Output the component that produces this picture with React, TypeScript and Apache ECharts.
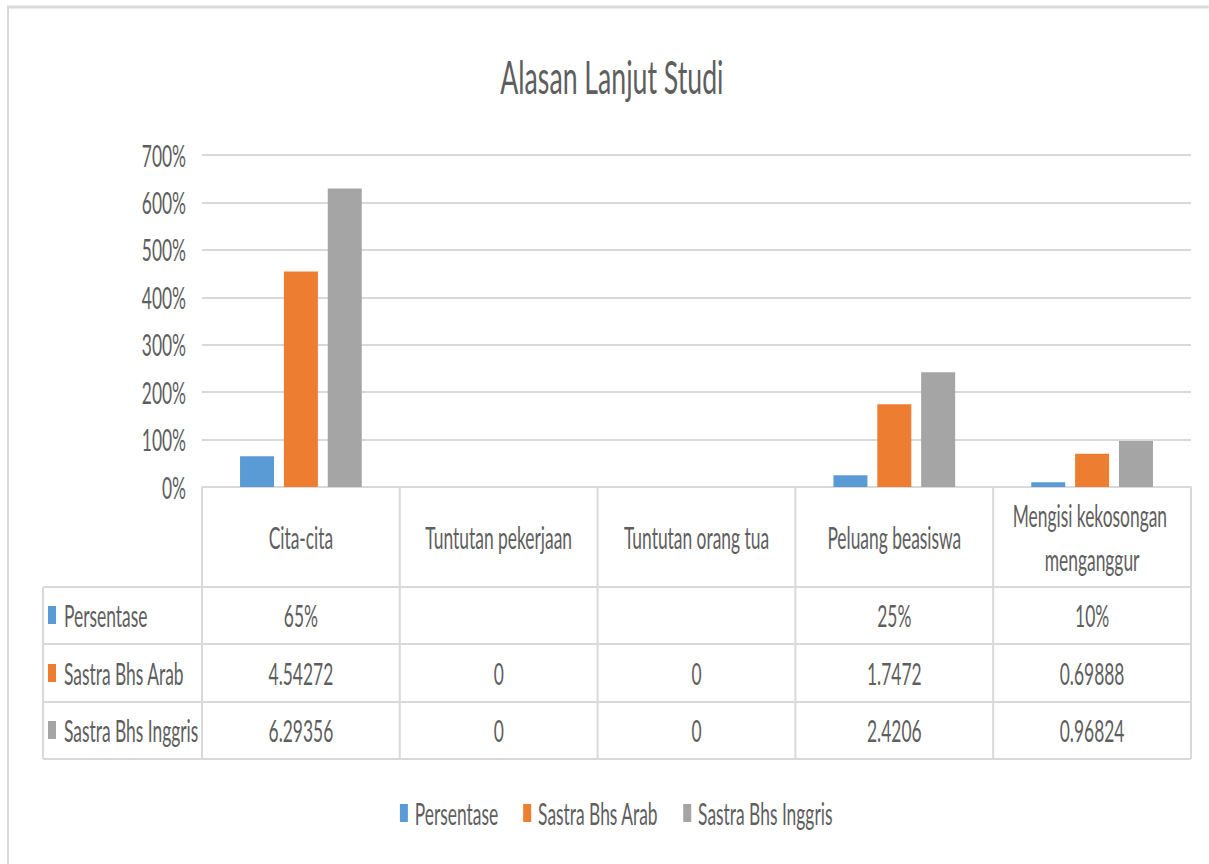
import React, { useEffect, useRef } from "react";
import * as echarts from "echarts";

// ---- data ----
const title = "Alasan Lanjut Studi";
const categories = [
  "Cita-cita",
  "Tuntutan pekerjaan",
  "Tuntutan orang tua",
  "Peluang beasiswa",
  "Mengisi kekosongan menganggur",
];
const seriesNames = ["Persentase", "Sastra Bhs Arab", "Sastra Bhs Inggris"];
const persentase: (number | null)[] = [0.65, null, null, 0.25, 0.1];
const sastraArab: number[] = [4.54272, 0, 0, 1.7472, 0.69888];
const sastraInggris: number[] = [6.29356, 0, 0, 2.4206, 0.96824];
const yTicks = [0, 1, 2, 3, 4, 5, 6, 7];
const colors = ["#5b9bd5", "#ed7d31", "#a5a5a5"];

const seriesValues = [persentase, sastraArab, sastraInggris];
const cellFormat = [
  (v: number | null) => (v == null ? "" : Math.round(v * 100) + "%"),
  (v: number | null) => (v == null ? "" : String(v)),
  (v: number | null) => (v == null ? "" : String(v)),
];

// ---- layout (visual px) ----
const S = 0.58; // horizontal squeeze of the original picture
const VW = 1209;
const VH = 864;
const IW = VW / S;
const X = (v: number) => v / S;
const plotLeft = 202;
const plotRight = 1191;
const plotTop = 155;
const plotBottom = 487;
const tableLeft = 43;
const rowLines = [487, 587, 644, 702, 759];
const rowCenters = [537, 615, 673, 730];
const FONT = '"Lato", "Liberation Sans", sans-serif';
const FW = 400;
const FS = 30;
const TXT = "#5e5e5e";
const LINE = "#d9d9d9";

export default function App() {
  const ref = useRef<HTMLDivElement>(null);
  useEffect(() => {
    if (!ref.current) return;
    const chart = echarts.init(ref.current, undefined, { renderer: "svg" });
    const bandW = (plotRight - plotLeft) / categories.length;

    const graphics: any[] = [];
    // outer chart border
    graphics.push({ type: "line", shape: { x1: X(7), y1: 7, x2: IW, y2: 7 }, style: { stroke: LINE, lineWidth: 3 } });
    graphics.push({ type: "line", shape: { x1: X(8), y1: 7, x2: X(8), y2: VH }, style: { stroke: LINE, lineWidth: 2 / S } });
    // table horizontal lines
    rowLines.slice(1).forEach((y) => {
      graphics.push({ type: "line", shape: { x1: X(tableLeft), y1: y, x2: X(plotRight), y2: y }, style: { stroke: LINE, lineWidth: 2 } });
    });
    // table vertical lines
    for (let i = 0; i <= categories.length; i++) {
      const x = X(plotLeft + i * bandW);
      graphics.push({ type: "line", shape: { x1: x, y1: rowLines[0], x2: x, y2: rowLines[4] }, style: { stroke: LINE, lineWidth: 2 / S } });
    }
    graphics.push({ type: "line", shape: { x1: X(tableLeft), y1: rowLines[1], x2: X(tableLeft), y2: rowLines[4] }, style: { stroke: LINE, lineWidth: 2 / S } });
    // left column keys and names
    seriesNames.forEach((name, i) => {
      const cy = rowCenters[i + 1];
      graphics.push({ type: "rect", shape: { x: X(48), y: cy - 9, width: X(8), height: 18 }, style: { fill: colors[i] } });
      graphics.push({
        type: "text",
        x: X(64),
        y: cy,
        style: { text: name, fill: TXT, fontSize: FS, fontFamily: FONT, fontWeight: FW, verticalAlign: "middle", align: "left" },
      });
    });

    const xAxes: any[] = [
      {
        type: "category",
        data: categories,
        gridIndex: 0,
        position: "bottom",
        axisLine: { show: true, lineStyle: { color: LINE, width: 2 } },
        axisTick: { show: false },
        axisLabel: {
          interval: 0,
          margin: rowCenters[0] - plotBottom,
          verticalAlign: "middle",
          lineHeight: 44,
          width: X(185),
          overflow: "break",
          fontSize: FS,
          fontFamily: FONT,
          fontWeight: FW,
          color: TXT,
        },
      },
    ];
    seriesValues.forEach((vals, i) => {
      xAxes.push({
        type: "category",
        data: categories,
        gridIndex: 0,
        position: "bottom",
        offset: 0,
        axisLine: { show: false },
        axisTick: { show: false },
        splitLine: { show: false },
        axisLabel: {
          interval: 0,
          margin: rowCenters[i + 1] - plotBottom,
          verticalAlign: "middle",
          fontSize: FS,
          fontFamily: FONT,
          fontWeight: FW,
          color: TXT,
          formatter: (_v: string, idx: number) => cellFormat[i](vals[idx]),
        },
      });
    });

    chart.setOption({
      animation: false,
      title: {
        text: title,
        left: X(609),
        top: 48,
        textAlign: "center",
        textStyle: { fontSize: 46, fontFamily: FONT, fontWeight: FW, color: TXT },
      },
      grid: {
        left: X(plotLeft),
        width: X(plotRight - plotLeft),
        top: plotTop,
        height: plotBottom - plotTop,
        containLabel: false,
      },
      legend: {
        data: seriesNames,
        left: X(397),
        top: 793,
        icon: "rect",
        itemWidth: X(8),
        itemHeight: 18,
        itemGap: X(25),
        textStyle: { fontSize: FS, fontFamily: FONT, fontWeight: FW, color: TXT, padding: [0, 0, 0, X(4)] },
      },
      xAxis: xAxes,
      yAxis: {
        type: "value",
        min: 0,
        max: yTicks[yTicks.length - 1],
        interval: 1,
        axisLine: { show: false },
        axisTick: { show: false },
        splitLine: { lineStyle: { color: LINE, width: 2 } },
        axisLabel: {
          margin: X(16),
          fontSize: FS,
          fontFamily: FONT,
          fontWeight: FW,
          color: TXT,
          formatter: (v: number) => Math.round(v * 100) + "%",
        },
      },
      series: seriesNames.map((name, i) => ({
        name,
        type: "bar",
        xAxisIndex: 0,
        data: seriesValues[i],
        barWidth: X(34),
        barGap: "29%",
        itemStyle: { color: colors[i] },
      })),
      graphic: graphics,
    });
    return () => chart.dispose();
  }, []);

  return (
    <div style={{ position: "fixed", left: 0, top: 0, width: VW, height: VH, overflow: "hidden", background: "#fff" }}>
      <div
        ref={ref}
        style={{ width: IW, height: VH, transform: `scaleX(${S})`, transformOrigin: "0 0" }}
      />
    </div>
  );
}
